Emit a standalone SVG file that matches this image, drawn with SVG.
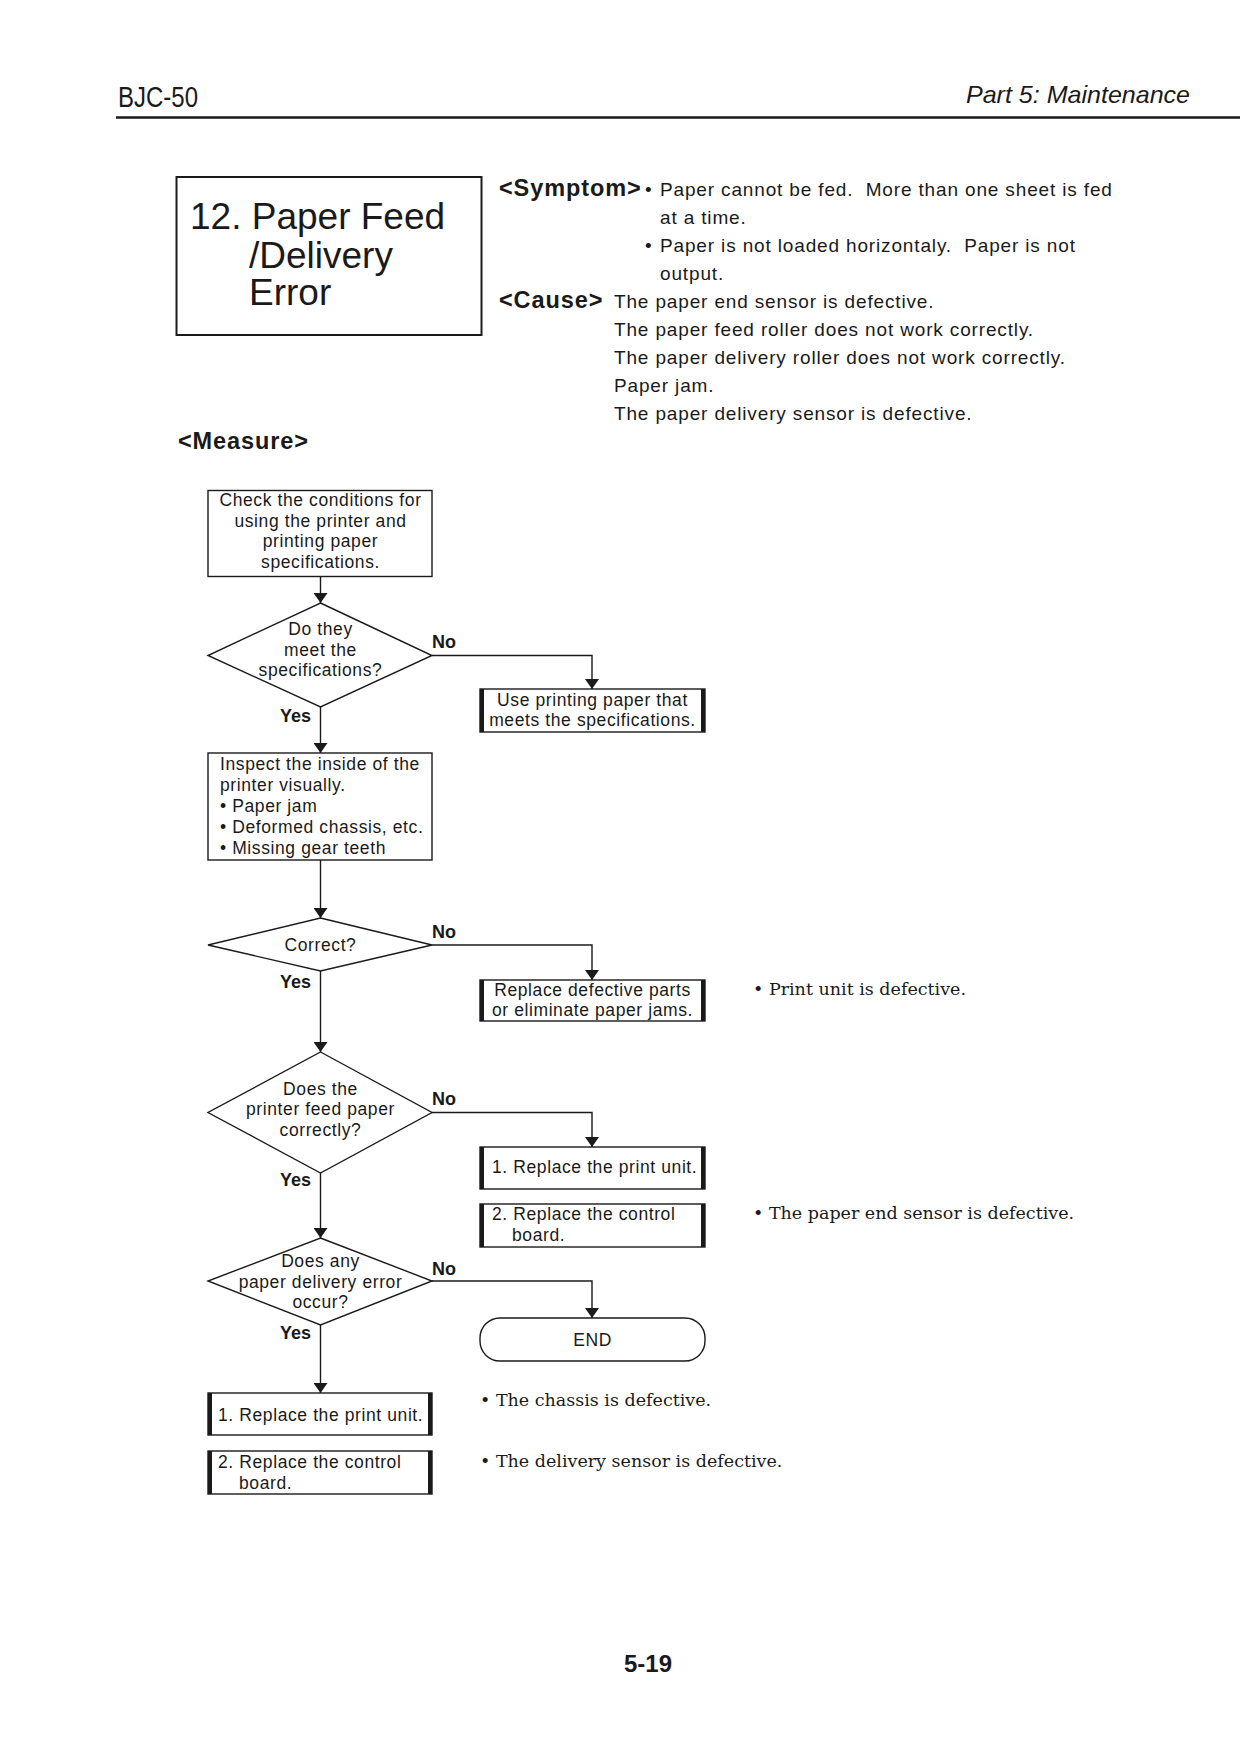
<svg xmlns="http://www.w3.org/2000/svg" width="1240" height="1752" viewBox="0 0 1240 1752">
<defs>
<style>
.t{font-family:"Liberation Sans",Arial,sans-serif;fill:#1a1a1a}
.b{font-family:"Liberation Sans",Arial,sans-serif;font-weight:bold;fill:#1a1a1a}
.s{font-family:"DejaVu Serif","Liberation Serif",serif;fill:#1a1a1a;font-size:17.5px}
.fc{font-size:17.5px;letter-spacing:0.6px}
.body{font-size:19px;letter-spacing:0.85px}
.hd{font-size:23.5px;letter-spacing:0.9px}
.box{fill:#fff;stroke:#1a1a1a;stroke-width:1.4}
.side{stroke:#1a1a1a;stroke-width:4}
.ln{fill:none;stroke:#1a1a1a;stroke-width:1.4}
.lab{font-size:18px}
</style>
<marker id="ah" viewBox="0 0 10 14" refX="10" refY="7" markerWidth="10" markerHeight="14" markerUnits="userSpaceOnUse" orient="auto">
<path d="M0,0 L10,7 L0,14 Z" fill="#1a1a1a"/>
</marker>
</defs>
<rect width="1240" height="1752" fill="#fff"/>

<g id="header">
<text class="t" x="118" y="107" font-size="29" textLength="80" lengthAdjust="spacingAndGlyphs">BJC-50</text>
<text class="t" x="1190" y="103" font-size="24" font-style="italic" text-anchor="end" textLength="224" lengthAdjust="spacingAndGlyphs">Part 5: Maintenance</text>
<line x1="116" y1="117.5" x2="1240" y2="117.5" stroke="#1a1a1a" stroke-width="2.5"/>
</g>

<g id="title">
<rect x="176.5" y="177" width="305" height="158" fill="none" stroke="#1a1a1a" stroke-width="2"/>
<text class="t" font-size="37"><tspan x="190" y="229">12. Paper Feed</tspan><tspan x="249" y="268">/Delivery</tspan><tspan x="249" y="305">Error</tspan></text>
</g>

<g id="symptom" class="t body">
<text class="b hd" x="499" y="196">&lt;Symptom&gt;</text>
<text x="645" y="196">•</text>
<text x="660" y="196">Paper cannot be fed.&#160; More than one sheet is fed</text>
<text x="660" y="224">at a time.</text>
<text x="645" y="252">•</text>
<text x="660" y="252">Paper is not loaded horizontaly.&#160; Paper is not</text>
<text x="660" y="280">output.</text>
<text class="b hd" x="499" y="308">&lt;Cause&gt;</text>
<text x="614" y="308">The paper end sensor is defective.</text>
<text x="614" y="336">The paper feed roller does not work correctly.</text>
<text x="614" y="364">The paper delivery roller does not work correctly.</text>
<text x="614" y="392">Paper jam.</text>
<text x="614" y="420">The paper delivery sensor is defective.</text>
</g>

<text class="b hd" x="178" y="449">&lt;Measure&gt;</text>

<g id="connectors">
<line class="ln" x1="320.5" y1="577" x2="320.5" y2="603" marker-end="url(#ah)"/>
<polyline class="ln" points="432,655.5 592,655.5 592,689" marker-end="url(#ah)"/>
<line class="ln" x1="320.5" y1="707" x2="320.5" y2="753" marker-end="url(#ah)"/>
<line class="ln" x1="320.5" y1="860" x2="320.5" y2="918" marker-end="url(#ah)"/>
<polyline class="ln" points="432,945 592,945 592,980" marker-end="url(#ah)"/>
<line class="ln" x1="320.5" y1="971" x2="320.5" y2="1052" marker-end="url(#ah)"/>
<polyline class="ln" points="432,1112.5 592,1112.5 592,1147" marker-end="url(#ah)"/>
<line class="ln" x1="320.5" y1="1173" x2="320.5" y2="1238" marker-end="url(#ah)"/>
<polyline class="ln" points="432,1281 592,1281 592,1318" marker-end="url(#ah)"/>
<line class="ln" x1="320.5" y1="1325" x2="320.5" y2="1393" marker-end="url(#ah)"/>
<g class="b lab">
<text x="432" y="648">No</text>
<text x="280" y="722">Yes</text>
<text x="432" y="938">No</text>
<text x="280" y="988">Yes</text>
<text x="432" y="1105">No</text>
<text x="280" y="1186">Yes</text>
<text x="432" y="1275">No</text>
<text x="280" y="1339">Yes</text>
</g>
</g>

<g id="n1">
<rect class="box" x="208" y="490.5" width="224" height="86"/>
<text class="t fc" text-anchor="middle"><tspan x="320.5" y="506">Check the conditions for</tspan><tspan x="320.5" y="527">using the printer and</tspan><tspan x="320.5" y="547">printing paper</tspan><tspan x="320.5" y="568">specifications.</tspan></text>
</g>

<g id="d1">
<polygon class="box" points="320.5,603 432,655.5 320.5,707 208,655.5"/>
<text class="t fc" text-anchor="middle"><tspan x="320.5" y="634.5">Do they</tspan><tspan x="320.5" y="655.5">meet the</tspan><tspan x="320.5" y="676">specifications?</tspan></text>
</g>

<g id="n2">
<rect class="box" x="480" y="689" width="225" height="43"/>
<line class="side" x1="482" y1="689" x2="482" y2="732"/>
<line class="side" x1="703" y1="689" x2="703" y2="732"/>
<text class="t fc" text-anchor="middle"><tspan x="592.5" y="706">Use printing paper that</tspan><tspan x="592.5" y="726">meets the specifications.</tspan></text>
</g>

<g id="n3">
<rect class="box" x="208" y="753" width="224" height="107"/>
<text class="t fc"><tspan x="220" y="770">Inspect the inside of the</tspan><tspan x="220" y="791">printer visually.</tspan><tspan x="220" y="812">• Paper jam</tspan><tspan x="220" y="833">• Deformed chassis, etc.</tspan><tspan x="220" y="854">• Missing gear teeth</tspan></text>
</g>

<g id="d2">
<polygon class="box" points="320.5,918 432,945 320.5,971 208,945"/>
<text class="t fc" x="320.5" y="951" text-anchor="middle">Correct?</text>
</g>

<g id="n4">
<rect class="box" x="480" y="980" width="225" height="41"/>
<line class="side" x1="482" y1="980" x2="482" y2="1021"/>
<line class="side" x1="703" y1="980" x2="703" y2="1021"/>
<text class="t fc" text-anchor="middle"><tspan x="592.5" y="996">Replace defective parts</tspan><tspan x="592.5" y="1016">or eliminate paper jams.</tspan></text>
</g>
<text class="s" x="753" y="995">• Print unit is defective.</text>

<g id="d3">
<polygon class="box" points="320.5,1052 432,1112.5 320.5,1173 208,1112.5"/>
<text class="t fc" text-anchor="middle"><tspan x="320.5" y="1095">Does the</tspan><tspan x="320.5" y="1115">printer feed paper</tspan><tspan x="320.5" y="1136">correctly?</tspan></text>
</g>

<g id="n5">
<rect class="box" x="480" y="1147" width="225" height="42"/>
<line class="side" x1="482" y1="1147" x2="482" y2="1189"/>
<line class="side" x1="703" y1="1147" x2="703" y2="1189"/>
<text class="t fc" x="492" y="1173">1. Replace the print unit.</text>
</g>

<g id="n6">
<rect class="box" x="480" y="1204" width="225" height="43"/>
<line class="side" x1="482" y1="1204" x2="482" y2="1247"/>
<line class="side" x1="703" y1="1204" x2="703" y2="1247"/>
<text class="t fc"><tspan x="492" y="1220">2. Replace the control</tspan><tspan x="512" y="1241">board.</tspan></text>
</g>
<text class="s" x="753" y="1219">• The paper end sensor is defective.</text>

<g id="d4">
<polygon class="box" points="320.5,1238 432,1281 320.5,1325 208,1281"/>
<text class="t fc" text-anchor="middle"><tspan x="320.5" y="1267">Does any</tspan><tspan x="320.5" y="1288">paper delivery error</tspan><tspan x="320.5" y="1308">occur?</tspan></text>
</g>

<g id="end">
<rect class="box" x="480" y="1318" width="225" height="43" rx="20" ry="20"/>
<text class="t fc" x="592.5" y="1346" text-anchor="middle">END</text>
</g>

<g id="n7">
<rect class="box" x="208" y="1393" width="224" height="42"/>
<line class="side" x1="210" y1="1393" x2="210" y2="1435"/>
<line class="side" x1="430" y1="1393" x2="430" y2="1435"/>
<text class="t fc" x="218" y="1421">1. Replace the print unit.</text>
</g>

<g id="n8">
<rect class="box" x="208" y="1451" width="224" height="43"/>
<line class="side" x1="210" y1="1451" x2="210" y2="1494"/>
<line class="side" x1="430" y1="1451" x2="430" y2="1494"/>
<text class="t fc"><tspan x="218" y="1468">2. Replace the control</tspan><tspan x="239" y="1489">board.</tspan></text>
</g>

<text class="s" x="480" y="1406">• The chassis is defective.</text>
<text class="s" x="480" y="1467">• The delivery sensor is defective.</text>

<text class="b" x="648" y="1672" font-size="24" text-anchor="middle">5-19</text>
</svg>
